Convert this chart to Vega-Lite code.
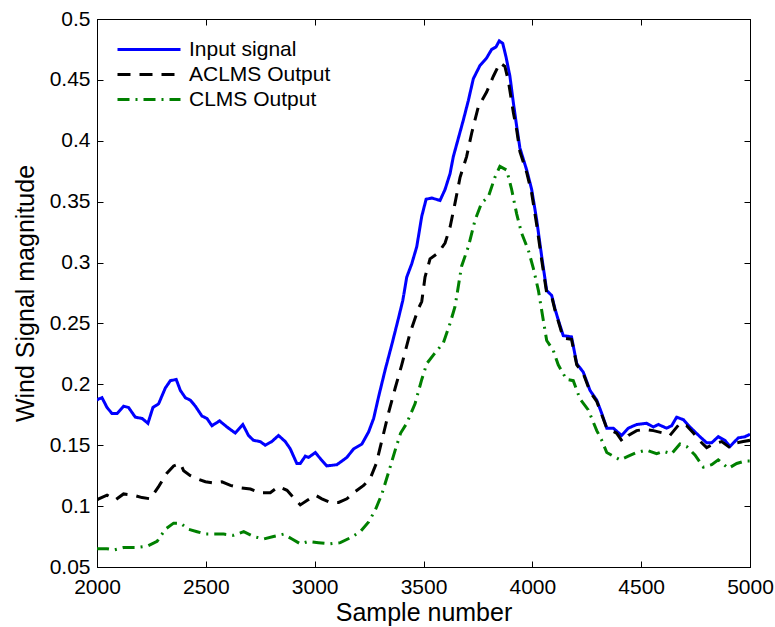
{
  "$schema": "https://vega.github.io/schema/vega-lite/v6.json",
  "autosize": {"type": "none"},
  "padding": {"left": 97, "top": 19, "right": 25, "bottom": 60},
  "width": 653,
  "height": 548,
  "background": "white",
  "config": {
    "font": "Liberation Sans",
    "view": {"stroke": "black", "strokeWidth": 1},
    "axis": {"grid": false, "domainColor": "black", "tickColor": "black", "labelColor": "black", "titleColor": "black", "labelFont": "Liberation Sans", "titleFont": "Liberation Sans", "labelFontSize": 21, "titleFontSize": 25, "titleFontWeight": "normal", "tickSize": -6, "labelFlush": false, "labelOverlap": false}
  },
  "data": {"values": [
    {"x": 2000, "y": 0.187, "s": "Input signal"},
    {"x": 2008, "y": 0.188, "s": "Input signal"},
    {"x": 2023, "y": 0.189, "s": "Input signal"},
    {"x": 2046, "y": 0.181, "s": "Input signal"},
    {"x": 2069, "y": 0.176, "s": "Input signal"},
    {"x": 2092, "y": 0.176, "s": "Input signal"},
    {"x": 2122, "y": 0.182, "s": "Input signal"},
    {"x": 2145, "y": 0.181, "s": "Input signal"},
    {"x": 2176, "y": 0.173, "s": "Input signal"},
    {"x": 2207, "y": 0.172, "s": "Input signal"},
    {"x": 2234, "y": 0.168, "s": "Input signal"},
    {"x": 2257, "y": 0.181, "s": "Input signal"},
    {"x": 2283, "y": 0.184, "s": "Input signal"},
    {"x": 2314, "y": 0.197, "s": "Input signal"},
    {"x": 2337, "y": 0.203, "s": "Input signal"},
    {"x": 2364, "y": 0.204, "s": "Input signal"},
    {"x": 2383, "y": 0.195, "s": "Input signal"},
    {"x": 2406, "y": 0.189, "s": "Input signal"},
    {"x": 2429, "y": 0.187, "s": "Input signal"},
    {"x": 2452, "y": 0.182, "s": "Input signal"},
    {"x": 2482, "y": 0.174, "s": "Input signal"},
    {"x": 2505, "y": 0.172, "s": "Input signal"},
    {"x": 2528, "y": 0.166, "s": "Input signal"},
    {"x": 2563, "y": 0.170, "s": "Input signal"},
    {"x": 2597, "y": 0.165, "s": "Input signal"},
    {"x": 2635, "y": 0.160, "s": "Input signal"},
    {"x": 2670, "y": 0.167, "s": "Input signal"},
    {"x": 2696, "y": 0.158, "s": "Input signal"},
    {"x": 2719, "y": 0.154, "s": "Input signal"},
    {"x": 2750, "y": 0.153, "s": "Input signal"},
    {"x": 2773, "y": 0.150, "s": "Input signal"},
    {"x": 2803, "y": 0.153, "s": "Input signal"},
    {"x": 2834, "y": 0.158, "s": "Input signal"},
    {"x": 2865, "y": 0.153, "s": "Input signal"},
    {"x": 2888, "y": 0.147, "s": "Input signal"},
    {"x": 2918, "y": 0.135, "s": "Input signal"},
    {"x": 2934, "y": 0.135, "s": "Input signal"},
    {"x": 2957, "y": 0.141, "s": "Input signal"},
    {"x": 2972, "y": 0.140, "s": "Input signal"},
    {"x": 3003, "y": 0.144, "s": "Input signal"},
    {"x": 3026, "y": 0.139, "s": "Input signal"},
    {"x": 3056, "y": 0.133, "s": "Input signal"},
    {"x": 3102, "y": 0.134, "s": "Input signal"},
    {"x": 3148, "y": 0.140, "s": "Input signal"},
    {"x": 3179, "y": 0.147, "s": "Input signal"},
    {"x": 3217, "y": 0.151, "s": "Input signal"},
    {"x": 3248, "y": 0.161, "s": "Input signal"},
    {"x": 3271, "y": 0.172, "s": "Input signal"},
    {"x": 3294, "y": 0.190, "s": "Input signal"},
    {"x": 3324, "y": 0.212, "s": "Input signal"},
    {"x": 3355, "y": 0.233, "s": "Input signal"},
    {"x": 3386, "y": 0.255, "s": "Input signal"},
    {"x": 3405, "y": 0.269, "s": "Input signal"},
    {"x": 3423, "y": 0.288, "s": "Input signal"},
    {"x": 3446, "y": 0.299, "s": "Input signal"},
    {"x": 3469, "y": 0.313, "s": "Input signal"},
    {"x": 3492, "y": 0.338, "s": "Input signal"},
    {"x": 3512, "y": 0.352, "s": "Input signal"},
    {"x": 3538, "y": 0.353, "s": "Input signal"},
    {"x": 3576, "y": 0.351, "s": "Input signal"},
    {"x": 3599, "y": 0.360, "s": "Input signal"},
    {"x": 3622, "y": 0.373, "s": "Input signal"},
    {"x": 3637, "y": 0.387, "s": "Input signal"},
    {"x": 3660, "y": 0.402, "s": "Input signal"},
    {"x": 3683, "y": 0.417, "s": "Input signal"},
    {"x": 3706, "y": 0.433, "s": "Input signal"},
    {"x": 3729, "y": 0.451, "s": "Input signal"},
    {"x": 3760, "y": 0.462, "s": "Input signal"},
    {"x": 3790, "y": 0.468, "s": "Input signal"},
    {"x": 3813, "y": 0.475, "s": "Input signal"},
    {"x": 3833, "y": 0.477, "s": "Input signal"},
    {"x": 3848, "y": 0.482, "s": "Input signal"},
    {"x": 3864, "y": 0.480, "s": "Input signal"},
    {"x": 3879, "y": 0.469, "s": "Input signal"},
    {"x": 3897, "y": 0.453, "s": "Input signal"},
    {"x": 3913, "y": 0.431, "s": "Input signal"},
    {"x": 3928, "y": 0.412, "s": "Input signal"},
    {"x": 3943, "y": 0.394, "s": "Input signal"},
    {"x": 3974, "y": 0.376, "s": "Input signal"},
    {"x": 3997, "y": 0.360, "s": "Input signal"},
    {"x": 4020, "y": 0.335, "s": "Input signal"},
    {"x": 4043, "y": 0.305, "s": "Input signal"},
    {"x": 4066, "y": 0.277, "s": "Input signal"},
    {"x": 4089, "y": 0.273, "s": "Input signal"},
    {"x": 4104, "y": 0.262, "s": "Input signal"},
    {"x": 4119, "y": 0.253, "s": "Input signal"},
    {"x": 4142, "y": 0.240, "s": "Input signal"},
    {"x": 4180, "y": 0.239, "s": "Input signal"},
    {"x": 4204, "y": 0.217, "s": "Input signal"},
    {"x": 4234, "y": 0.210, "s": "Input signal"},
    {"x": 4265, "y": 0.195, "s": "Input signal"},
    {"x": 4296, "y": 0.187, "s": "Input signal"},
    {"x": 4319, "y": 0.176, "s": "Input signal"},
    {"x": 4342, "y": 0.164, "s": "Input signal"},
    {"x": 4372, "y": 0.164, "s": "Input signal"},
    {"x": 4410, "y": 0.158, "s": "Input signal"},
    {"x": 4441, "y": 0.164, "s": "Input signal"},
    {"x": 4479, "y": 0.167, "s": "Input signal"},
    {"x": 4525, "y": 0.168, "s": "Input signal"},
    {"x": 4556, "y": 0.165, "s": "Input signal"},
    {"x": 4579, "y": 0.167, "s": "Input signal"},
    {"x": 4617, "y": 0.164, "s": "Input signal"},
    {"x": 4640, "y": 0.166, "s": "Input signal"},
    {"x": 4663, "y": 0.173, "s": "Input signal"},
    {"x": 4694, "y": 0.171, "s": "Input signal"},
    {"x": 4724, "y": 0.165, "s": "Input signal"},
    {"x": 4770, "y": 0.157, "s": "Input signal"},
    {"x": 4801, "y": 0.152, "s": "Input signal"},
    {"x": 4824, "y": 0.152, "s": "Input signal"},
    {"x": 4854, "y": 0.157, "s": "Input signal"},
    {"x": 4885, "y": 0.154, "s": "Input signal"},
    {"x": 4908, "y": 0.149, "s": "Input signal"},
    {"x": 4946, "y": 0.156, "s": "Input signal"},
    {"x": 4977, "y": 0.157, "s": "Input signal"},
    {"x": 5000, "y": 0.159, "s": "Input signal"},

    {"x": 2000, "y": 0.105, "s": "ACLMS Output"},
    {"x": 2008, "y": 0.106, "s": "ACLMS Output"},
    {"x": 2046, "y": 0.109, "s": "ACLMS Output"},
    {"x": 2084, "y": 0.105, "s": "ACLMS Output"},
    {"x": 2122, "y": 0.110, "s": "ACLMS Output"},
    {"x": 2168, "y": 0.109, "s": "ACLMS Output"},
    {"x": 2207, "y": 0.107, "s": "ACLMS Output"},
    {"x": 2245, "y": 0.106, "s": "ACLMS Output"},
    {"x": 2283, "y": 0.116, "s": "ACLMS Output"},
    {"x": 2321, "y": 0.127, "s": "ACLMS Output"},
    {"x": 2352, "y": 0.133, "s": "ACLMS Output"},
    {"x": 2383, "y": 0.135, "s": "ACLMS Output"},
    {"x": 2398, "y": 0.129, "s": "ACLMS Output"},
    {"x": 2429, "y": 0.125, "s": "ACLMS Output"},
    {"x": 2467, "y": 0.122, "s": "ACLMS Output"},
    {"x": 2498, "y": 0.120, "s": "ACLMS Output"},
    {"x": 2536, "y": 0.119, "s": "ACLMS Output"},
    {"x": 2574, "y": 0.120, "s": "ACLMS Output"},
    {"x": 2613, "y": 0.117, "s": "ACLMS Output"},
    {"x": 2659, "y": 0.115, "s": "ACLMS Output"},
    {"x": 2705, "y": 0.114, "s": "ACLMS Output"},
    {"x": 2750, "y": 0.111, "s": "ACLMS Output"},
    {"x": 2796, "y": 0.111, "s": "ACLMS Output"},
    {"x": 2834, "y": 0.116, "s": "ACLMS Output"},
    {"x": 2873, "y": 0.113, "s": "ACLMS Output"},
    {"x": 2903, "y": 0.107, "s": "ACLMS Output"},
    {"x": 2934, "y": 0.101, "s": "ACLMS Output"},
    {"x": 2968, "y": 0.105, "s": "ACLMS Output"},
    {"x": 3003, "y": 0.109, "s": "ACLMS Output"},
    {"x": 3033, "y": 0.106, "s": "ACLMS Output"},
    {"x": 3072, "y": 0.103, "s": "ACLMS Output"},
    {"x": 3110, "y": 0.103, "s": "ACLMS Output"},
    {"x": 3148, "y": 0.106, "s": "ACLMS Output"},
    {"x": 3187, "y": 0.112, "s": "ACLMS Output"},
    {"x": 3225, "y": 0.117, "s": "ACLMS Output"},
    {"x": 3256, "y": 0.123, "s": "ACLMS Output"},
    {"x": 3283, "y": 0.135, "s": "ACLMS Output"},
    {"x": 3309, "y": 0.154, "s": "ACLMS Output"},
    {"x": 3340, "y": 0.177, "s": "ACLMS Output"},
    {"x": 3370, "y": 0.197, "s": "ACLMS Output"},
    {"x": 3400, "y": 0.216, "s": "ACLMS Output"},
    {"x": 3438, "y": 0.242, "s": "ACLMS Output"},
    {"x": 3476, "y": 0.262, "s": "ACLMS Output"},
    {"x": 3492, "y": 0.268, "s": "ACLMS Output"},
    {"x": 3507, "y": 0.288, "s": "ACLMS Output"},
    {"x": 3530, "y": 0.303, "s": "ACLMS Output"},
    {"x": 3568, "y": 0.308, "s": "ACLMS Output"},
    {"x": 3599, "y": 0.316, "s": "ACLMS Output"},
    {"x": 3622, "y": 0.329, "s": "ACLMS Output"},
    {"x": 3645, "y": 0.349, "s": "ACLMS Output"},
    {"x": 3668, "y": 0.370, "s": "ACLMS Output"},
    {"x": 3698, "y": 0.387, "s": "ACLMS Output"},
    {"x": 3721, "y": 0.406, "s": "ACLMS Output"},
    {"x": 3752, "y": 0.428, "s": "ACLMS Output"},
    {"x": 3790, "y": 0.440, "s": "ACLMS Output"},
    {"x": 3821, "y": 0.453, "s": "ACLMS Output"},
    {"x": 3851, "y": 0.464, "s": "ACLMS Output"},
    {"x": 3874, "y": 0.461, "s": "ACLMS Output"},
    {"x": 3890, "y": 0.449, "s": "ACLMS Output"},
    {"x": 3913, "y": 0.423, "s": "ACLMS Output"},
    {"x": 3928, "y": 0.409, "s": "ACLMS Output"},
    {"x": 3943, "y": 0.391, "s": "ACLMS Output"},
    {"x": 3974, "y": 0.374, "s": "ACLMS Output"},
    {"x": 3997, "y": 0.357, "s": "ACLMS Output"},
    {"x": 4020, "y": 0.331, "s": "ACLMS Output"},
    {"x": 4043, "y": 0.302, "s": "ACLMS Output"},
    {"x": 4066, "y": 0.275, "s": "ACLMS Output"},
    {"x": 4089, "y": 0.272, "s": "ACLMS Output"},
    {"x": 4104, "y": 0.261, "s": "ACLMS Output"},
    {"x": 4119, "y": 0.252, "s": "ACLMS Output"},
    {"x": 4142, "y": 0.238, "s": "ACLMS Output"},
    {"x": 4180, "y": 0.237, "s": "ACLMS Output"},
    {"x": 4204, "y": 0.216, "s": "ACLMS Output"},
    {"x": 4234, "y": 0.209, "s": "ACLMS Output"},
    {"x": 4265, "y": 0.194, "s": "ACLMS Output"},
    {"x": 4296, "y": 0.186, "s": "ACLMS Output"},
    {"x": 4319, "y": 0.175, "s": "ACLMS Output"},
    {"x": 4342, "y": 0.164, "s": "ACLMS Output"},
    {"x": 4387, "y": 0.160, "s": "ACLMS Output"},
    {"x": 4414, "y": 0.153, "s": "ACLMS Output"},
    {"x": 4441, "y": 0.158, "s": "ACLMS Output"},
    {"x": 4479, "y": 0.162, "s": "ACLMS Output"},
    {"x": 4517, "y": 0.163, "s": "ACLMS Output"},
    {"x": 4556, "y": 0.162, "s": "ACLMS Output"},
    {"x": 4602, "y": 0.160, "s": "ACLMS Output"},
    {"x": 4632, "y": 0.158, "s": "ACLMS Output"},
    {"x": 4678, "y": 0.168, "s": "ACLMS Output"},
    {"x": 4709, "y": 0.166, "s": "ACLMS Output"},
    {"x": 4740, "y": 0.160, "s": "ACLMS Output"},
    {"x": 4778, "y": 0.152, "s": "ACLMS Output"},
    {"x": 4801, "y": 0.148, "s": "ACLMS Output"},
    {"x": 4832, "y": 0.151, "s": "ACLMS Output"},
    {"x": 4870, "y": 0.153, "s": "ACLMS Output"},
    {"x": 4908, "y": 0.148, "s": "ACLMS Output"},
    {"x": 4939, "y": 0.152, "s": "ACLMS Output"},
    {"x": 4969, "y": 0.153, "s": "ACLMS Output"},
    {"x": 5000, "y": 0.154, "s": "ACLMS Output"},

    {"x": 2000, "y": 0.065, "s": "CLMS Output"},
    {"x": 2046, "y": 0.065, "s": "CLMS Output"},
    {"x": 2077, "y": 0.064, "s": "CLMS Output"},
    {"x": 2122, "y": 0.066, "s": "CLMS Output"},
    {"x": 2184, "y": 0.066, "s": "CLMS Output"},
    {"x": 2230, "y": 0.067, "s": "CLMS Output"},
    {"x": 2276, "y": 0.071, "s": "CLMS Output"},
    {"x": 2314, "y": 0.081, "s": "CLMS Output"},
    {"x": 2352, "y": 0.086, "s": "CLMS Output"},
    {"x": 2383, "y": 0.086, "s": "CLMS Output"},
    {"x": 2421, "y": 0.081, "s": "CLMS Output"},
    {"x": 2460, "y": 0.079, "s": "CLMS Output"},
    {"x": 2498, "y": 0.077, "s": "CLMS Output"},
    {"x": 2536, "y": 0.077, "s": "CLMS Output"},
    {"x": 2582, "y": 0.077, "s": "CLMS Output"},
    {"x": 2628, "y": 0.076, "s": "CLMS Output"},
    {"x": 2674, "y": 0.079, "s": "CLMS Output"},
    {"x": 2720, "y": 0.075, "s": "CLMS Output"},
    {"x": 2766, "y": 0.073, "s": "CLMS Output"},
    {"x": 2811, "y": 0.075, "s": "CLMS Output"},
    {"x": 2857, "y": 0.077, "s": "CLMS Output"},
    {"x": 2896, "y": 0.073, "s": "CLMS Output"},
    {"x": 2934, "y": 0.069, "s": "CLMS Output"},
    {"x": 2972, "y": 0.071, "s": "CLMS Output"},
    {"x": 3018, "y": 0.070, "s": "CLMS Output"},
    {"x": 3072, "y": 0.069, "s": "CLMS Output"},
    {"x": 3118, "y": 0.070, "s": "CLMS Output"},
    {"x": 3164, "y": 0.074, "s": "CLMS Output"},
    {"x": 3210, "y": 0.079, "s": "CLMS Output"},
    {"x": 3248, "y": 0.087, "s": "CLMS Output"},
    {"x": 3279, "y": 0.097, "s": "CLMS Output"},
    {"x": 3309, "y": 0.110, "s": "CLMS Output"},
    {"x": 3340, "y": 0.128, "s": "CLMS Output"},
    {"x": 3370, "y": 0.146, "s": "CLMS Output"},
    {"x": 3395, "y": 0.160, "s": "CLMS Output"},
    {"x": 3423, "y": 0.168, "s": "CLMS Output"},
    {"x": 3461, "y": 0.184, "s": "CLMS Output"},
    {"x": 3492, "y": 0.204, "s": "CLMS Output"},
    {"x": 3515, "y": 0.217, "s": "CLMS Output"},
    {"x": 3545, "y": 0.224, "s": "CLMS Output"},
    {"x": 3591, "y": 0.234, "s": "CLMS Output"},
    {"x": 3622, "y": 0.250, "s": "CLMS Output"},
    {"x": 3645, "y": 0.264, "s": "CLMS Output"},
    {"x": 3675, "y": 0.297, "s": "CLMS Output"},
    {"x": 3706, "y": 0.313, "s": "CLMS Output"},
    {"x": 3737, "y": 0.335, "s": "CLMS Output"},
    {"x": 3767, "y": 0.349, "s": "CLMS Output"},
    {"x": 3798, "y": 0.354, "s": "CLMS Output"},
    {"x": 3828, "y": 0.370, "s": "CLMS Output"},
    {"x": 3851, "y": 0.379, "s": "CLMS Output"},
    {"x": 3882, "y": 0.376, "s": "CLMS Output"},
    {"x": 3905, "y": 0.360, "s": "CLMS Output"},
    {"x": 3928, "y": 0.340, "s": "CLMS Output"},
    {"x": 3951, "y": 0.324, "s": "CLMS Output"},
    {"x": 3982, "y": 0.310, "s": "CLMS Output"},
    {"x": 4005, "y": 0.295, "s": "CLMS Output"},
    {"x": 4028, "y": 0.277, "s": "CLMS Output"},
    {"x": 4050, "y": 0.253, "s": "CLMS Output"},
    {"x": 4066, "y": 0.236, "s": "CLMS Output"},
    {"x": 4096, "y": 0.228, "s": "CLMS Output"},
    {"x": 4119, "y": 0.216, "s": "CLMS Output"},
    {"x": 4157, "y": 0.204, "s": "CLMS Output"},
    {"x": 4188, "y": 0.203, "s": "CLMS Output"},
    {"x": 4219, "y": 0.188, "s": "CLMS Output"},
    {"x": 4257, "y": 0.179, "s": "CLMS Output"},
    {"x": 4296, "y": 0.162, "s": "CLMS Output"},
    {"x": 4319, "y": 0.154, "s": "CLMS Output"},
    {"x": 4342, "y": 0.144, "s": "CLMS Output"},
    {"x": 4372, "y": 0.141, "s": "CLMS Output"},
    {"x": 4403, "y": 0.138, "s": "CLMS Output"},
    {"x": 4441, "y": 0.141, "s": "CLMS Output"},
    {"x": 4479, "y": 0.144, "s": "CLMS Output"},
    {"x": 4525, "y": 0.146, "s": "CLMS Output"},
    {"x": 4571, "y": 0.143, "s": "CLMS Output"},
    {"x": 4602, "y": 0.145, "s": "CLMS Output"},
    {"x": 4640, "y": 0.143, "s": "CLMS Output"},
    {"x": 4678, "y": 0.151, "s": "CLMS Output"},
    {"x": 4709, "y": 0.149, "s": "CLMS Output"},
    {"x": 4747, "y": 0.142, "s": "CLMS Output"},
    {"x": 4786, "y": 0.132, "s": "CLMS Output"},
    {"x": 4824, "y": 0.134, "s": "CLMS Output"},
    {"x": 4854, "y": 0.138, "s": "CLMS Output"},
    {"x": 4901, "y": 0.131, "s": "CLMS Output"},
    {"x": 4939, "y": 0.135, "s": "CLMS Output"},
    {"x": 4977, "y": 0.137, "s": "CLMS Output"},
    {"x": 5000, "y": 0.137, "s": "CLMS Output"}
  ]},
  "resolve": {"axis": {"x": "independent", "y": "independent"}},
  "layer": [
    {
      "mark": {"type": "line", "strokeWidth": 3, "clip": true},
      "encoding": {
        "x": {"field": "x", "type": "quantitative", "scale": {"domain": [2000, 5000], "nice": false, "zero": false},
              "axis": {"title": "Sample number", "values": [2000, 2500, 3000, 3500, 4000, 4500, 5000], "format": "d", "labelPadding": 15, "titleX": 326.5, "titleY": 53, "titleBaseline": "alphabetic", "titleAnchor": "middle"}},
        "y": {"field": "y", "type": "quantitative", "scale": {"domain": [0.05, 0.5], "nice": false, "zero": false},
              "axis": {"title": "Wind Signal magnitude", "values": [0.05, 0.1, 0.15, 0.2, 0.25, 0.3, 0.35, 0.4, 0.45, 0.5], "format": ".2~f", "labelPadding": 13, "titleX": -64, "titleY": 274, "titleBaseline": "alphabetic", "titleAnchor": "middle"}},
        "color": {"field": "s", "type": "nominal",
                  "scale": {"domain": ["Input signal", "ACLMS Output", "CLMS Output"], "range": ["#0000ff", "#000000", "#008000"]},
                  "legend": {"title": null, "orient": "none", "legendX": 40, "legendY": 18.5, "symbolType": "M-3,0H3", "symbolSize": 441, "symbolStrokeWidth": 3, "labelFontSize": 21, "labelFont": "Liberation Sans", "labelColor": "black", "rowPadding": 3, "labelOffset": 28, "padding": 0}},
        "strokeDash": {"field": "s", "type": "nominal",
                       "scale": {"domain": ["Input signal", "ACLMS Output", "CLMS Output"], "range": [[1, 0], [13, 9], [12, 6, 2, 6]]},
                       "legend": {"title": null, "orient": "none", "legendX": 40, "legendY": 18.5, "symbolType": "M-3,0H3", "symbolSize": 441, "symbolStrokeWidth": 3, "labelFontSize": 21, "labelFont": "Liberation Sans", "labelColor": "black", "rowPadding": 3, "labelOffset": 28, "padding": 0}}
      }
    },
    {
      "mark": {"type": "line", "strokeOpacity": 0},
      "encoding": {
        "x": {"field": "x", "type": "quantitative", "axis": {"orient": "top", "labels": false, "title": null, "values": [2000, 2500, 3000, 3500, 4000, 4500, 5000]}},
        "y": {"field": "y", "type": "quantitative", "axis": {"orient": "right", "labels": false, "title": null, "values": [0.05, 0.1, 0.15, 0.2, 0.25, 0.3, 0.35, 0.4, 0.45, 0.5]}}
      }
    }
  ]
}
